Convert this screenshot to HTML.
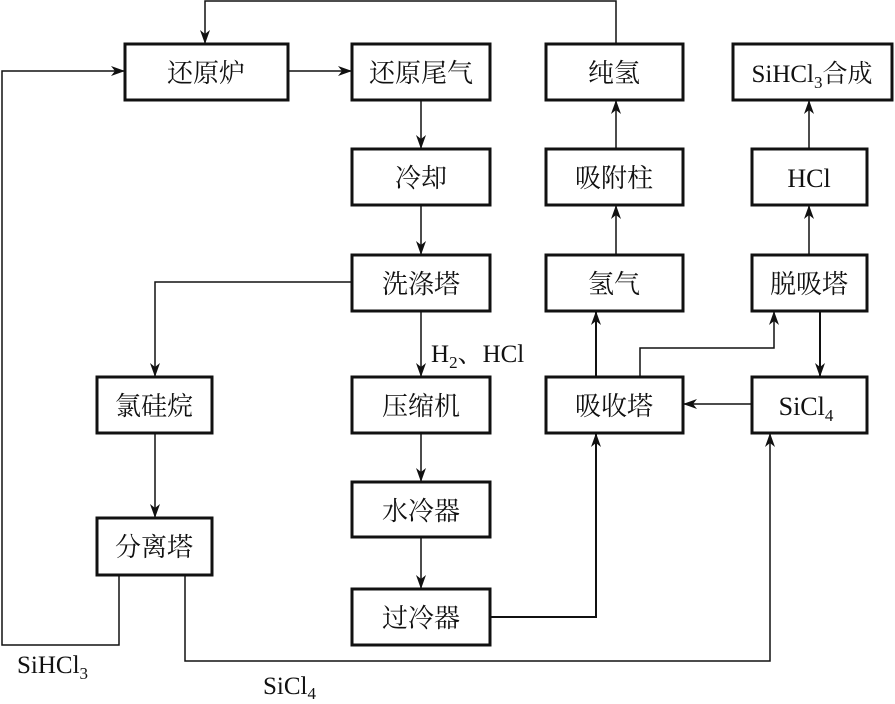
<!DOCTYPE html>
<html><head><meta charset="utf-8"><style>
body{margin:0;background:#fff}
svg text{font-family:"Liberation Serif","Noto Serif CJK SC",serif;fill:#111}
</style></head><body>
<svg width="895" height="699" viewBox="0 0 895 699" xmlns="http://www.w3.org/2000/svg">
<defs><marker id="a" markerWidth="14" markerHeight="10" refX="13" refY="5" orient="auto" markerUnits="userSpaceOnUse"><path d="M0,0 L14,5 L0,10 L4,5 Z" fill="#111"/></marker></defs>
<g fill="none" stroke="#111" stroke-width="3">
<rect x="125" y="44" width="163" height="56"/>
<rect x="352" y="44" width="138" height="56"/>
<rect x="546" y="44" width="137" height="56"/>
<rect x="733" y="44" width="159" height="56"/>
<rect x="352" y="149" width="138" height="56"/>
<rect x="546" y="149" width="137" height="56"/>
<rect x="752" y="149" width="115" height="56"/>
<rect x="352" y="255" width="138" height="56"/>
<rect x="546" y="255" width="137" height="56"/>
<rect x="752" y="255" width="115" height="56"/>
<rect x="97" y="377" width="115" height="56"/>
<rect x="352" y="377" width="138" height="56"/>
<rect x="546" y="377" width="137" height="56"/>
<rect x="752" y="377" width="115" height="56"/>
<rect x="352" y="482" width="138" height="55"/>
<rect x="97" y="518" width="115" height="57"/>
<rect x="352" y="589" width="138" height="56"/>
</g>
<g fill="none" stroke="#111" stroke-width="1.5">
<polyline points="616,44 616,1 205,1 205,43" marker-end="url(#a)"/>
<line x1="288" y1="71" x2="351" y2="71" marker-end="url(#a)"/>
<polyline points="119,575 119,645 2,645 2,71 124,71" marker-end="url(#a)"/>
<line x1="421" y1="100" x2="421" y2="148" marker-end="url(#a)"/>
<line x1="421" y1="205" x2="421" y2="254" marker-end="url(#a)"/>
<line x1="421" y1="311" x2="421" y2="376" marker-end="url(#a)"/>
<line x1="421" y1="433" x2="421" y2="481" marker-end="url(#a)"/>
<line x1="421" y1="537" x2="421" y2="588" marker-end="url(#a)"/>
<polyline points="352,282 155,282 155,376" marker-end="url(#a)"/>
<line x1="155" y1="433" x2="155" y2="517" marker-end="url(#a)"/>
<polyline points="185,575 185,661 770,661 770,434" marker-end="url(#a)"/>
<polyline points="490,617 596,617 596,434" marker-end="url(#a)" stroke-width="2"/>
<line x1="596" y1="377" x2="596" y2="312" marker-end="url(#a)" stroke-width="2"/>
<polyline points="640,377 640,348 774,348 774,312" marker-end="url(#a)"/>
<line x1="820" y1="311" x2="820" y2="376" marker-end="url(#a)" stroke-width="2"/>
<line x1="752" y1="404" x2="684" y2="404" marker-end="url(#a)"/>
<line x1="616" y1="149" x2="616" y2="101" marker-end="url(#a)"/>
<line x1="616" y1="255" x2="616" y2="206" marker-end="url(#a)"/>
<line x1="809" y1="149" x2="809" y2="101" marker-end="url(#a)"/>
<line x1="809" y1="255" x2="809" y2="206" marker-end="url(#a)"/>
</g>
<g font-size="26" text-anchor="middle">
<text x="206" y="82">还原炉</text>
<text x="421" y="82">还原尾气</text>
<text x="614" y="82">纯氢</text>
<text x="812" y="82" font-size="25">SiHCl<tspan font-size="17" dy="6">3</tspan><tspan dy="-6">合成</tspan></text>
<text x="421" y="187">冷却</text>
<text x="614" y="187">吸附柱</text>
<text x="809" y="187">HCl</text>
<text x="421" y="293">洗涤塔</text>
<text x="614" y="293">氢气</text>
<text x="809" y="293">脱吸塔</text>
<text x="154" y="415">氯硅烷</text>
<text x="421" y="415">压缩机</text>
<text x="614" y="415">吸收塔</text>
<text x="806" y="415">SiCl<tspan font-size="17" dy="6">4</tspan></text>
<text x="421" y="520">水冷器</text>
<text x="154" y="556">分离塔</text>
<text x="421" y="627">过冷器</text>
</g>
<g font-size="25">
<text x="431" y="362">H<tspan font-size="17" dy="6">2</tspan><tspan dy="-6">、HCl</tspan></text>
<text x="17" y="673">SiHCl<tspan font-size="17" dy="6">3</tspan></text>
<text x="263" y="694">SiCl<tspan font-size="17" dy="5">4</tspan></text>
</g>
</svg>
</body></html>
